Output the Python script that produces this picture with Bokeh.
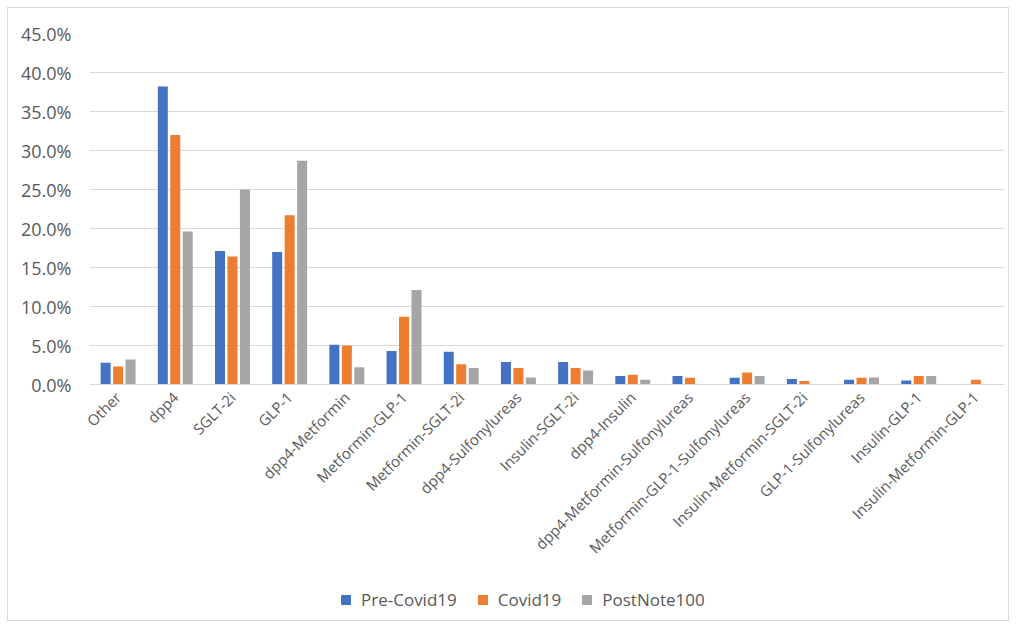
from bokeh.plotting import figure
from bokeh.layouts import column
from bokeh.models import FactorRange, Range1d, FixedTicker, NumeralTickFormatter, Legend, LegendItem, ColumnDataSource
from bokeh.transform import dodge
from bokeh.embed import file_html
from bokeh.resources import INLINE
import math

categories = ["Other", "dpp4", "SGLT-2i", "GLP-1", "dpp4-Metformin", "Metformin-GLP-1",
              "Metformin-SGLT-2i", "dpp4-Sulfonylureas", "Insulin-SGLT-2i", "dpp4-Insulin",
              "dpp4-Metformin-Sulfonylureas", "Metformin-GLP-1-Sulfonylureas",
              "Insulin-Metformin-SGLT-2i", "GLP-1-Sulfonylureas", "Insulin-GLP-1",
              "Insulin-Metformin-GLP-1"]
pre_covid = [2.8, 38.2, 17.1, 17.0, 5.1, 4.3, 4.2, 2.9, 2.9, 1.1, 1.1, 0.85, 0.7, 0.6, 0.5, 0.0]
covid = [2.3, 32.0, 16.4, 21.7, 5.0, 8.7, 2.6, 2.1, 2.1, 1.25, 0.85, 1.55, 0.45, 0.85, 1.1, 0.6]
postnote = [3.2, 19.6, 25.0, 28.7, 2.2, 12.1, 2.1, 0.9, 1.8, 0.6, 0.0, 1.1, 0.0, 0.9, 1.1, 0.0]
series_names = ["Pre-Covid19", "Covid19", "PostNote100"]
y_ticks = [0.0, 0.05, 0.10, 0.15, 0.20, 0.25, 0.30, 0.35, 0.40, 0.45]

colors = ["#4472C4", "#ED7D31", "#A5A5A5"]
FONT = "Open Sans"
TXT = "#595959"

src = ColumnDataSource(dict(
    cat=categories,
    pre=[v / 100 for v in pre_covid],
    cov=[v / 100 for v in covid],
    post=[v / 100 for v in postnote],
))

p = figure(width=1000, height=572, x_range=FactorRange(*categories),
           y_range=Range1d(0, 0.45), output_backend="svg", toolbar_location=None,
           min_border_left=81, min_border_right=4, min_border_top=25, min_border_bottom=196)

for key, off, col in zip(["pre", "cov", "post"], [-0.218, 0.0, 0.218], colors):
    p.vbar(x=dodge("cat", off, range=p.x_range), top=key, width=0.175, source=src,
           fill_color=col, line_color=None)

p.outline_line_color = None
p.xgrid.grid_line_color = None
p.ygrid.grid_line_color = "#D9D9D9"
p.ygrid.grid_line_width = 1

p.yaxis.ticker = FixedTicker(ticks=y_ticks)
p.yaxis.formatter = NumeralTickFormatter(format="0.0%")
p.yaxis.axis_line_color = None
p.yaxis.major_tick_line_color = None
p.yaxis.minor_tick_line_color = None
p.yaxis.major_tick_out = 0
p.yaxis.major_label_standoff = 18
p.yaxis.major_label_text_font = FONT
p.yaxis.major_label_text_font_size = "18px"
p.yaxis.major_label_text_color = TXT

p.xaxis.axis_line_color = "#D9D9D9"
p.xaxis.major_tick_line_color = None
p.xaxis.major_tick_out = 0
p.xaxis.major_label_orientation = math.pi / 4
p.xaxis.major_label_standoff = 10
p.xaxis.major_label_text_font = FONT
p.xaxis.major_label_text_font_size = "15px"
p.xaxis.major_label_text_color = TXT

# legend strip below the chart (proxy renderers with no visible data)
lf = figure(width=1000, height=40, x_range=Range1d(0, 1), y_range=Range1d(0, 1),
            x_axis_type=None, y_axis_type=None, output_backend="svg", toolbar_location=None,
            min_border=0, outline_line_color=None)
nan = float("nan")
leg_renderers = []
for col in colors:
    leg_renderers.append(lf.scatter(x=[nan], y=[nan], marker="square", size=10,
                                    fill_color=col, line_color=None))

legend = Legend(items=[LegendItem(label=n, renderers=[r]) for n, r in zip(series_names, leg_renderers)],
                orientation="horizontal", location=(244, 8), padding=0, margin=0,
                border_line_color=None, background_fill_alpha=0,
                glyph_width=25, glyph_height=25, label_standoff=3, spacing=13,
                label_text_font=FONT, label_text_font_size="17px", label_text_color=TXT)
lf.add_layout(legend, "center")

layout = column(p, lf, spacing=0,
                styles={"margin": "8px 0 0 8px", "outline": "1px solid #D9D9D9"})

open("out.html", "w").write(file_html(layout, INLINE))
